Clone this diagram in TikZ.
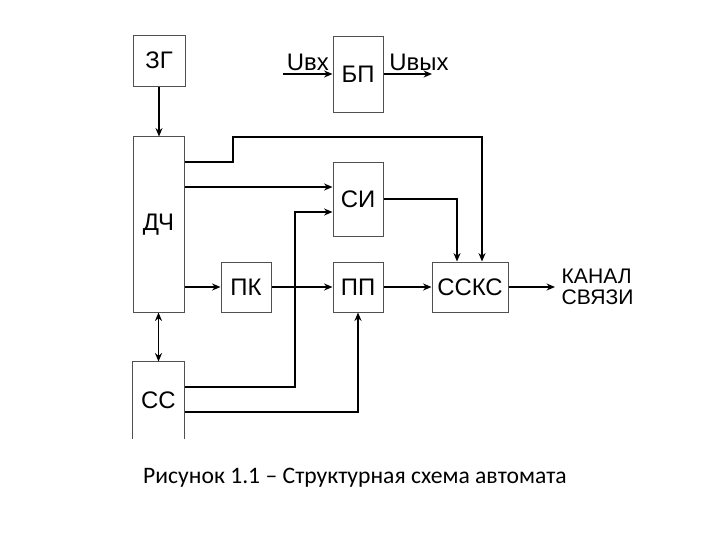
\documentclass[tikz,border=0pt]{standalone}
\usepackage{fontspec}
\setmainfont{Liberation Sans}
\newfontfamily\capfont{Carlito}
\usetikzlibrary{arrows.meta}
\definecolor{bordo}{HTML}{505050}

\begin{document}
\begin{tikzpicture}[x=0.025cm, y=-0.025cm,
            box/.style={draw=bordo, line width=0.7pt, fill=white,
                    font=\fontsize{17}{20}\selectfont, inner sep=0pt,
                    align=center},
            arr/.style={line width=1.2pt, -{Stealth[length=6pt, width=5pt]}},
            lbl/.style={font=\fontsize{15}{17}\selectfont, inner sep=1pt}
        ]
        \useasboundingbox (0,0) rectangle (720,540);

        % blocchi
        \node[box, minimum width=1.3cm, minimum height=1.275cm] (zg) at (159, 60.5) {ЗГ};
        \node[box, minimum width=1.25cm, minimum height=1.9cm] (bp) at (358, 74) {БП};
        \node[box, minimum width=1.275cm, minimum height=4.375cm] (dch) at (158.5, 224.5) {ДЧ};
        \node[box, minimum width=1.25cm, minimum height=1.85cm] (si) at (358, 199) {СИ};
        \node[box, minimum width=1.25cm, minimum height=1.25cm] (pk) at (246, 287) {ПК};
        \node[box, minimum width=1.25cm, minimum height=1.25cm] (pp) at (358, 287) {ПП};
        \node[box, minimum width=1.9cm, minimum height=1.25cm] (ssks) at (470, 287) {ССКС};
        \node[box, draw=none, minimum width=1.275cm, minimum height=1.9cm] (ss) at (158.5, 400) {СС};
        \draw[draw=bordo, line width=0.7pt] (ss.south west) -- (ss.north west)
            -- (ss.north east) -- (ss.south east);

        % ingressi e uscite
        \coordinate (uin) at (283, 74);
        \coordinate (uout) at (432, 74);
        \coordinate (kanal) at (555, 287);
        \draw[arr] (uin) -- (bp.west) node[lbl, font=\fontsize{17}{20}\selectfont,
            midway, above=1pt] {Uвх};
        \draw[arr] (bp.east) -- (uout) node[lbl, font=\fontsize{17}{20}\selectfont,
            midway, above=1pt, xshift=8pt] {Uвых};
        \draw[arr] (ssks.east) -- (kanal);
        \node[lbl, align=left, anchor=west] (kan) at (560, 287) {КАНАЛ\\[-2pt]СВЯЗИ};

        % collegamenti
        \draw[arr] (zg.south) -- (zg.south |- dch.north);
        \draw[arr, {Stealth[length=6pt, width=5pt]}-{Stealth[length=6pt, width=5pt]}]
            (dch.south) -- (dch.south |- ss.north);
        \draw[arr] (dch.east |- 0,162) -- (233,162) -- (233,137)
            -| (ssks.north -| 482,0);
        \draw[arr] (dch.east |- 0,187) -- (si.west |- 0,187);
        \draw[arr] (si.east) -| (ssks.north -| 457,0);
        \draw[arr] (dch.east |- pk.west) -- (pk.west);
        \draw[arr] (pk) -- (pp);
        \draw[arr] (pp) -- (ssks);
        \draw[arr] (ss.east |- 0,387) -| (295,212) -- (si.west |- 0,212);
        \draw[arr] (ss.east |- 0,412) -| (pp.south);

        % didascalia
        \node[font=\capfont\fontsize{16.8}{19}\selectfont] (cap) at (355, 478)
            {Рисунок 1.1 – Структурная схема автомата};
    \end{tikzpicture}
\end{document}
